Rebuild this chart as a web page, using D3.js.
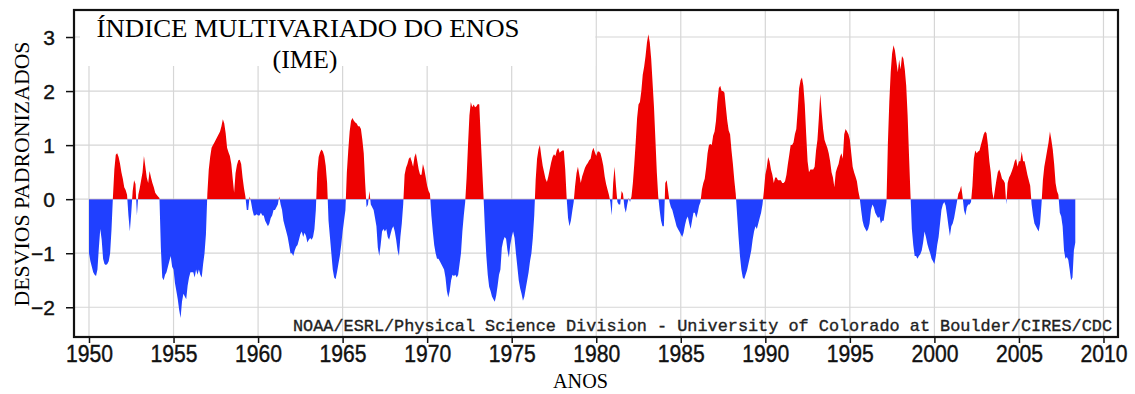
<!DOCTYPE html>
<html>
<head>
<meta charset="utf-8">
<script src="https://cdn.jsdelivr.net/npm/d3@7"></script>
<style>body{margin:0;background:#fff}</style>
</head>
<body>
<svg id="chart" width="1135" height="394"></svg>
<script>
// Indice multivariado do ENOS (MEI), valores mensais, jan/1950 - mai/2008
var startYear = 1950;
var mei1950s = [
 -1.0, -1.15, -1.25, -1.35, -1.4, -1.42, -1.3, -0.9, -0.55, -0.75, -1.1, -1.2,   // 1950
 -1.22, -1.2, -1.15, -1.0, -0.55, 0.05, 0.55, 0.82, 0.85, 0.78, 0.66, 0.5,       // 1951
 0.38, 0.22, 0.17, 0.08, -0.3, -0.6, -0.25, 0.15, 0.35, 0.28, -0.3, 0.08,        // 1952
 0.2, 0.35, 0.5, 0.8, 0.6, 0.4, 0.3, 0.52, 0.4, 0.3, 0.22, 0.12,                 // 1953
 0.08, 0.05, 0.02, -0.9, -1.45, -1.5, -1.4, -1.35, -1.25, -1.15, -1.05, -1.25,   // 1954
 -1.3, -1.55, -1.7, -1.85, -2.05, -2.2, -1.9, -1.75, -1.8, -1.85, -1.6, -1.45,   // 1955
 -1.35, -1.35, -1.35, -1.45, -1.3, -1.4, -1.3, -1.4, -1.45, -1.2, -1.0, -0.65,   // 1956
 0.1, 0.55, 0.78, 0.95, 1.0, 1.05, 1.1, 1.15, 1.2, 1.25, 1.35, 1.48,             // 1957
 1.4, 1.22, 0.95, 0.87, 0.8, 0.65, 0.38, 0.12, 0.48, 0.63, 0.72, 0.73,           // 1958
 0.65, 0.4, 0.2, 0.05, -0.2, -0.2, 0.05, -0.05, -0.2, -0.3, -0.3, -0.28          // 1959
];
var mei1960s = [
 -0.3, -0.3, -0.25, -0.3, -0.3, -0.4, -0.45, -0.5, -0.45, -0.35, -0.3, -0.2,     // 1960
 -0.2, -0.15, -0.1, 0.05, -0.1, -0.2, -0.4, -0.5, -0.6, -0.7, -0.85, -1.0,       // 1961
 -1.0, -1.05, -0.95, -0.88, -0.85, -0.75, -0.65, -0.6, -0.7, -0.62, -0.68, -0.8, // 1962
 -0.75, -0.72, -0.75, -0.7, -0.55, -0.2, 0.5, 0.78, 0.87, 0.92, 0.88, 0.8,       // 1963
 0.62, 0.3, -0.4, -0.7, -1.0, -1.3, -1.45, -1.48, -1.35, -1.2, -1.05, -0.85,     // 1964
 -0.6, -0.4, -0.2, 0.5, 0.9, 1.25, 1.45, 1.5, 1.45, 1.42, 1.4, 1.35,             // 1965
 1.35, 1.3, 1.1, 0.85, 0.3, -0.15, -0.1, 0.15, -0.1, -0.15, -0.2, -0.35,         // 1966
 -0.5, -0.9, -1.05, -0.85, -0.6, -0.55, -0.6, -0.55, -0.7, -0.75, -0.65, -0.55,  // 1967
 -0.5, -0.6, -0.75, -0.95, -1.05, -0.7, -0.45, -0.1, 0.45, 0.58, 0.65, 0.75,     // 1968
 0.78, 0.7, 0.6, 0.78, 0.85, 0.7, 0.55, 0.45, 0.45, 0.65, 0.55, 0.4              // 1969
];
var mei1970s = [
 0.25, 0.15, 0.1, -0.3, -0.6, -0.85, -1.0, -1.1, -1.1, -1.15, -1.2, -1.25,       // 1970
 -1.3, -1.45, -1.7, -1.82, -1.7, -1.5, -1.4, -1.42, -1.4, -1.45, -1.4, -1.2,     // 1971
 -1.0, -0.6, -0.3, -0.05, 0.4, 1.0, 1.55, 1.8, 1.7, 1.75, 1.7, 1.72,             // 1972
 1.76, 1.75, 1.15, 0.6, 0.05, -0.55, -1.05, -1.4, -1.62, -1.7, -1.8, -1.85,      // 1973
 -1.9, -1.78, -1.6, -1.4, -1.3, -0.9, -0.77, -0.7, -0.73, -0.95, -1.08, -0.85,   // 1974
 -0.7, -0.6, -0.72, -1.0, -1.25, -1.5, -1.65, -1.75, -1.88, -1.8, -1.65, -1.5,   // 1975
 -1.35, -1.15, -1.0, -0.72, -0.3, 0.35, 0.75, 0.92, 1.0, 0.8, 0.62, 0.5,         // 1976
 0.38, 0.32, 0.42, 0.55, 0.68, 0.78, 0.83, 0.8, 0.9, 0.95, 0.86, 0.88,           // 1977
 0.9, 0.9, 0.55, 0.02, -0.35, -0.5, -0.4, -0.22, -0.05, 0.25, 0.48, 0.6,         // 1978
 0.45, 0.3, 0.42, 0.5, 0.58, 0.63, 0.67, 0.72, 0.75, 0.88, 0.95, 0.87            // 1979
];
var mei1980s = [
 0.8, 0.88, 0.88, 0.85, 0.75, 0.62, 0.42, 0.28, 0.18, 0.08, -0.05, -0.3,         // 1980
 0.3, 0.6, 0.25, -0.05, -0.1, -0.1, 0.15, 0.1, -0.15, -0.25, -0.1, 0.02,         // 1981
 -0.05, 0.05, 0.3, 0.65, 1.05, 1.5, 1.75, 1.8, 2.0, 2.3, 2.45, 2.65,             // 1982
 2.9, 3.05, 2.9, 2.6, 2.15, 1.7, 1.1, 0.5, 0.05, -0.2, -0.4, -0.5,               // 1983
 -0.5, 0.3, 0.35, 0.15, -0.05, -0.15, -0.2, -0.3, -0.4, -0.5, -0.55, -0.6,       // 1984
 -0.65, -0.7, -0.62, -0.48, -0.37, -0.32, -0.45, -0.55, -0.4, -0.25, -0.25, -0.35, // 1985
 -0.25, -0.12, -0.05, 0.18, 0.3, 0.38, 0.58, 0.85, 1.0, 1.02, 1.0, 1.18,         // 1986
 1.25, 1.45, 1.8, 2.05, 2.1, 2.0, 2.0, 1.97, 1.7, 1.45, 1.27, 1.2,               // 1987
 0.9, 0.65, 0.35, 0.1, -0.3, -0.7, -1.05, -1.3, -1.45, -1.48, -1.4, -1.32,       // 1988
 -1.2, -1.08, -0.95, -0.75, -0.6, -0.5, -0.55, -0.45, -0.35, -0.25, -0.1, 0.15   // 1989
];
var mei1990s = [
 0.45, 0.58, 0.78, 0.7, 0.55, 0.45, 0.3, 0.4, 0.4, 0.35, 0.35, 0.35,             // 1990
 0.3, 0.3, 0.33, 0.45, 0.65, 0.82, 1.0, 1.0, 1.05, 1.2, 1.3, 1.65,               // 1991
 2.05, 2.2, 2.25, 2.1, 1.75, 1.2, 0.7, 0.5, 0.55, 0.55, 0.55, 0.6,               // 1992
 0.9, 1.1, 1.5, 1.95, 1.6, 1.3, 1.1, 1.02, 0.95, 0.85, 0.7, 0.5,                 // 1993
 0.4, 0.22, 0.5, 0.58, 0.65, 0.78, 0.85, 0.75, 1.2, 1.3, 1.25, 1.2,              // 1994
 1.1, 0.85, 0.6, 0.5, 0.42, 0.33, 0.15, 0.02, -0.2, -0.4, -0.5, -0.55,           // 1995
 -0.6, -0.55, -0.45, -0.2, -0.1, -0.15, -0.25, -0.3, -0.35, -0.32, -0.45, -0.4,  // 1996
 -0.4, -0.22, -0.05, 1.05, 1.8, 2.35, 2.7, 2.85, 2.75, 2.55, 2.35, 2.58,         // 1997
 2.4, 2.65, 2.6, 2.4, 2.1, 1.55, 0.8, 0.1, -0.55, -0.85, -1.05, -1.05,           // 1998
 -1.1, -1.05, -1.02, -0.95, -0.8, -0.6, -0.7, -0.83, -0.92, -1.0, -1.1, -1.15    // 1999
];
var mei2000s = [
 -1.2, -1.05, -0.85, -0.7, -0.45, -0.2, -0.1, -0.05, -0.12, -0.3, -0.5, -0.68,   // 2000
 -0.5, -0.45, -0.35, -0.2, -0.05, 0.1, 0.15, 0.25, 0.05, -0.2, -0.3, -0.15,      // 2001
 -0.1, -0.1, -0.05, 0.25, 0.75, 0.9, 0.85, 0.88, 0.9, 1.0, 1.1, 1.2,             // 2002
 1.25, 1.22, 1.0, 0.7, 0.5, 0.15, 0.0, 0.18, 0.35, 0.5, 0.55, 0.48,              // 2003
 0.38, 0.35, 0.3, -0.1, 0.3, 0.4, 0.45, 0.52, 0.6, 0.7, 0.75, 0.6,               // 2004
 0.7, 0.7, 0.88, 0.7, 0.7, 0.58, 0.45, 0.35, 0.25, -0.1, -0.3, -0.45,            // 2005
 -0.5, -0.55, -0.6, -0.45, -0.1, 0.35, 0.6, 0.75, 0.9, 1.05, 1.25, 1.1,          // 2006
 0.92, 0.65, 0.3, 0.15, 0.08, -0.25, -0.32, -0.5, -0.95, -1.1, -1.07, -1.12,     // 2007
 -1.3, -1.5, -1.45, -0.95, -0.8                                                  // 2008
];
var yearTicks = [1950, 1955, 1960, 1965, 1970, 1975, 1980, 1985, 1990, 1995, 2000, 2005, 2010];
var valueTicks = [-2, -1, 0, 1, 2, 3];

var svg = d3.select("#chart");
var L = 74, T = 10, R = 1118, B = 337;
var x = d3.scaleLinear().domain([1949.113, 2010.859]).range([L, R]);
var y = d3.scaleLinear().domain([-2.55, 3.5]).range([B, T]);

var mei = [].concat(mei1950s, mei1960s, mei1970s, mei1980s, mei1990s, mei2000s);
var pts = mei.map(function(v, i){ return {t: startYear + i/12, v: v}; });

// grade
var grid = svg.append("g").attr("stroke", "#d6d6d6").attr("stroke-width", 1.2);
grid.selectAll(".gv").data(yearTicks).join("line").attr("class", "gv")
	.attr("x1", function(d){ return x(d); }).attr("x2", function(d){ return x(d); })
	.attr("y1", T).attr("y2", B);
grid.selectAll(".gh").data(valueTicks).join("line").attr("class", "gh")
	.attr("y1", function(d){ return y(d); }).attr("y2", function(d){ return y(d); })
	.attr("x1", L).attr("x2", R);

// caixa branca do titulo
svg.append("rect").attr("x", L + 6).attr("y", T + 1)
	.attr("width", x(1980) - 1 - (L + 6)).attr("height", 55).attr("fill", "#fff");

var defs = svg.append("defs");
defs.append("clipPath").attr("id", "pos").append("rect")
	.attr("x", L).attr("y", T).attr("width", R - L).attr("height", y(0) - T);
defs.append("clipPath").attr("id", "neg").append("rect")
	.attr("x", L).attr("y", y(0)).attr("width", R - L).attr("height", B - y(0));

var area = d3.area()
	.x(function(d){ return x(d.t); })
	.y0(y(0))
	.y1(function(d){ return y(d.v); });

svg.append("path").datum(pts).attr("d", area).attr("fill", "#ee0000").attr("clip-path", "url(#pos)");
svg.append("path").datum(pts).attr("d", area).attr("fill", "#2040ff").attr("clip-path", "url(#neg)");

// eixos
var yAxis = svg.append("g").attr("transform", "translate(" + L + ",0)")
	.call(d3.axisLeft(y).tickValues(valueTicks).tickSize(8).tickPadding(11).tickFormat(d3.format("d")));
yAxis.select(".domain").remove();
yAxis.selectAll("line").attr("stroke", "#111").attr("stroke-width", 1.5);
yAxis.selectAll("text").attr("font-family", "Liberation Sans, Arial, sans-serif")
	.attr("font-size", 21).attr("fill", "#111").attr("stroke", "#111").attr("stroke-width", 0.4)
	.attr("dy", "0.36em");

var xAxis = svg.append("g").attr("transform", "translate(0," + B + ")")
	.call(d3.axisBottom(x).tickValues(yearTicks).tickSize(6).tickPadding(3).tickFormat(d3.format("d")));
xAxis.select(".domain").remove();
xAxis.selectAll("line").attr("stroke", "#111").attr("stroke-width", 1.5);
xAxis.selectAll("text").attr("font-family", "Liberation Sans, Arial, sans-serif")
	.attr("font-size", 23).attr("fill", "#111").attr("stroke", "#111").attr("stroke-width", 0.4)
	.attr("textLength", 47).attr("lengthAdjust", "spacingAndGlyphs");

// moldura
svg.append("rect").attr("x", L).attr("y", T).attr("width", R - L).attr("height", B - T)
	.attr("fill", "none").attr("stroke", "#111").attr("stroke-width", 2.2);

// textos
var serif = "Liberation Serif, Times New Roman, serif";
svg.append("text").attr("x", 308).attr("y", 36.5).attr("text-anchor", "middle")
	.attr("font-family", serif).attr("font-size", 25)
	.attr("textLength", 423).attr("lengthAdjust", "spacingAndGlyphs")
	.text("ÍNDICE MULTIVARIADO DO ENOS");
svg.append("text").attr("x", 305).attr("y", 68).attr("text-anchor", "middle")
	.attr("font-family", serif).attr("font-size", 26).text("(IME)");
svg.append("text").attr("transform", "translate(29,174) rotate(-90)").attr("text-anchor", "middle")
	.attr("font-family", serif).attr("font-size", 22)
	.attr("textLength", 265).attr("lengthAdjust", "spacingAndGlyphs")
	.text("DESVIOS PADRONIZADOS");
svg.append("text").attr("x", 580.5).attr("y", 388).attr("text-anchor", "middle")
	.attr("font-family", serif).attr("font-size", 20)
	.attr("textLength", 55).attr("lengthAdjust", "spacingAndGlyphs")
	.text("ANOS");
svg.append("text").attr("x", 293).attr("y", 331)
	.attr("font-family", "Liberation Mono, DejaVu Sans Mono, monospace")
	.attr("font-size", 17).attr("fill", "#222").attr("stroke", "#222").attr("stroke-width", 0.35)
	.attr("textLength", 819).attr("lengthAdjust", "spacingAndGlyphs")
	.text("NOAA/ESRL/Physical Science Division - University of Colorado at Boulder/CIRES/CDC");
</script>
</body>
</html>
